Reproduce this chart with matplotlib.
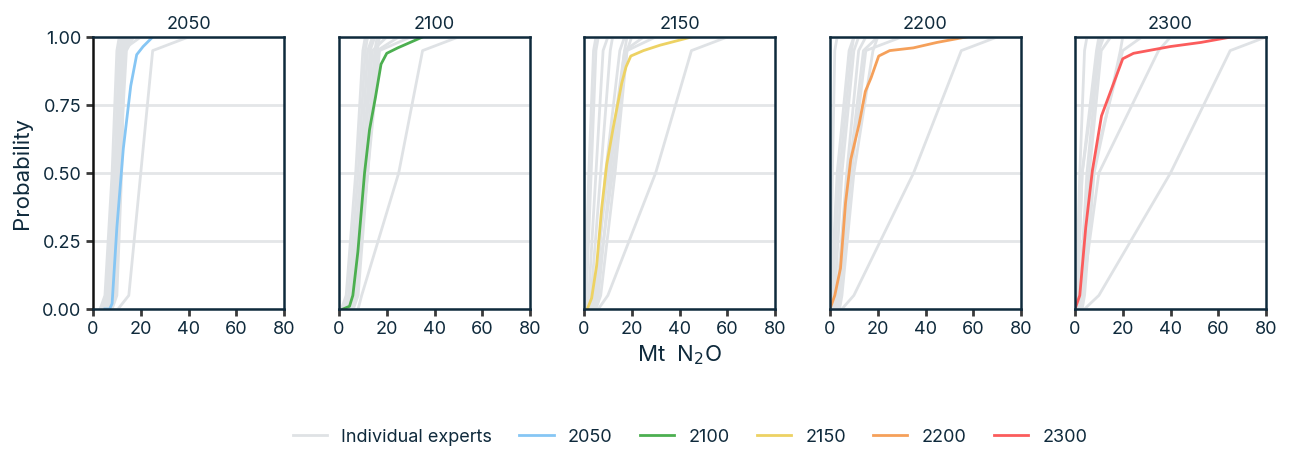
import matplotlib
matplotlib.use("Agg")
import matplotlib.pyplot as plt
from matplotlib.lines import Line2D

plt.rcParams["font.family"] = ["Inter", "DejaVu Sans"]

YEARS = ["2050", "2100", "2150", "2200", "2300"]
COLORS = ["#86c6f4", "#4caf50", "#edd263", "#f5a05a", "#fb5c5c"]

# expert quantiles: min, 5th, median, 95th, max
EXPERT_PROBS = [0.0, 0.05, 0.5, 0.95, 1.0]
experts_2050 = [
    [3, 5, 8, 10, 11], [4, 6, 9, 11, 12], [5, 7, 9.5, 11, 13],
    [6, 8, 10, 12, 14], [7, 9, 11, 13, 15], [4, 7, 10, 13, 16],
    [8, 10, 12, 13, 15], [5, 8, 11, 14, 17], [3, 6, 9, 12, 20],
    [10.5, 15, 20, 25, 40],
]
experts_2100 = [
    [1, 3, 7, 10, 11], [2, 4, 8, 11, 12], [3, 5, 9, 12, 14],
    [4, 6, 10, 13, 15], [5, 7, 11, 15, 16], [2, 5, 10, 14, 20],
    [6, 8, 12, 16, 17], [3, 6, 11, 16, 25], [4, 7, 12, 17, 30],
    [8, 9.5, 25, 35, 50],
]
experts_2150 = [
    [0, 0.5, 2, 4, 5], [0, 1, 3, 5, 6], [1, 2, 5, 8, 10],
    [2, 3, 7, 11, 12], [3, 5, 9, 15, 17], [4, 6, 11, 17, 18],
    [2, 4, 10, 17, 25], [3, 5, 12, 18, 30], [5, 7, 13, 18, 20],
    [6, 10, 30, 45, 60],
]
experts_2200 = [
    [0, 0.2, 1, 2, 3], [0, 0.5, 3, 8, 10], [0, 1, 4, 9, 10],
    [1, 2, 5, 10, 12], [2, 3, 7, 12, 15], [3, 4, 8, 14, 20],
    [2, 4, 9, 15, 30], [4, 5, 10, 18, 20],
    [5, 10, 35, 55, 70],
]
experts_2300 = [
    [0, 0.5, 2, 4, 5], [0, 1, 3, 9, 10], [0, 1, 3, 10, 11],
    [1, 2, 5, 10, 12], [2, 3, 6, 11, 15], [3, 4, 8, 19, 20],
    [1, 3, 7, 20, 28], [2, 3, 10, 35, 40],
    [4, 10, 40, 65, 80],
]
EXPERTS = [experts_2050, experts_2100, experts_2150, experts_2200, experts_2300]

# aggregated distribution per year (x values, cumulative probability)
agg_x_2050 = [5, 7, 8, 10, 12.7, 15.8, 18.3, 21, 25]
agg_p_2050 = [0, 0, 0.02, 0.3, 0.59, 0.82, 0.935, 0.965, 1.0]
agg_x_2100 = [1.7, 4.4, 5.8, 7.9, 10.7, 12.8, 15.3, 17.6, 20, 24.6, 35]
agg_p_2100 = [0, 0.01, 0.05, 0.21, 0.5, 0.66, 0.78, 0.9, 0.94, 0.96, 1.0]
agg_x_2150 = [1.4, 3.2, 5.3, 7.4, 9.5, 12.3, 15.8, 17.6, 19.6, 24.9, 31.9, 45]
agg_p_2150 = [0, 0.04, 0.16, 0.37, 0.53, 0.67, 0.83, 0.89, 0.93, 0.95, 0.97, 1.0]
agg_x_2200 = [0, 2, 4.4, 6.5, 8.7, 12.2, 14.8, 17.2, 20.4, 25, 34.9, 44.8, 57]
agg_p_2200 = [0, 0.05, 0.15, 0.39, 0.55, 0.68, 0.8, 0.85, 0.93, 0.95, 0.96, 0.98, 1.0]
agg_x_2300 = [0, 2, 4.5, 7.3, 11.1, 20, 24.5, 40, 52.7, 65.4, 80]
agg_p_2300 = [0, 0.05, 0.3, 0.51, 0.71, 0.92, 0.94, 0.965, 0.98, 1.0, 1.0]
AGG_X = [agg_x_2050, agg_x_2100, agg_x_2150, agg_x_2200, agg_x_2300]
AGG_P = [agg_p_2050, agg_p_2100, agg_p_2150, agg_p_2200, agg_p_2300]

GREY = "#dfe2e5"
NAVY = "#0f2a3c"

fig = plt.figure(figsize=(12.92, 4.49), dpi=100)
W, H = 1292, 449
lefts = [93, 339, 584, 830, 1075]
axes = []
for i, year in enumerate(YEARS):
    ax = fig.add_axes([lefts[i] / W, 1 - 309 / H, 191 / W, 272 / H])
    axes.append(ax)
    for q in EXPERTS[i]:
        ax.plot(q, EXPERT_PROBS, color=GREY, lw=2, zorder=2, solid_capstyle="round")
    ax.plot(AGG_X[i], AGG_P[i], color=COLORS[i], lw=2, zorder=3)
    ax.set_xlim(0, 80)
    ax.set_ylim(0, 1)
    ax.set_xticks([0, 20, 40, 60, 80])
    ax.set_yticks([0, 0.25, 0.5, 0.75, 1.0])
    ax.grid(axis="y", color="#e4e6e8", lw=2, zorder=1)
    ax.set_axisbelow(True)
    for s in ax.spines.values():
        s.set_color(NAVY)
        s.set_linewidth(1.8)
        s.set_zorder(4)
    ax.tick_params(axis="x", colors="#3a3a3a", labelcolor=NAVY, labelsize=13,
                   length=5, width=2)
    ax.set_title(year, fontsize=13, color=NAVY, pad=6)
    if i == 0:
        ax.set_yticklabels(["0.00", "0.25", "0.50", "0.75", "1.00"])
        ax.tick_params(axis="y", colors="#3a3a3a", labelcolor=NAVY, labelsize=13,
                       length=5, width=2)
        ax.spines["left"].set_color("#111111")
        ax.set_ylabel("Probability", fontsize=16, color=NAVY, labelpad=7)
    else:
        ax.tick_params(axis="y", left=False, labelleft=False)

fig.text(680 / W, 1 - 355 / H, "Mt  N$_2$O", ha="center", va="center",
         fontsize=16, color=NAVY)

handles = [Line2D([], [], color=GREY, lw=2)]
handles += [Line2D([], [], color=c, lw=2) for c in COLORS]
labels = ["Individual experts"] + YEARS
fig.legend(handles, labels, loc="center", bbox_to_anchor=(690 / W, 1 - 437 / H),
           ncol=6, frameon=False, fontsize=13, handlelength=1.9,
           handletextpad=0.8, columnspacing=1.5, labelcolor=NAVY)

fig.savefig("out.png", dpi=100)
